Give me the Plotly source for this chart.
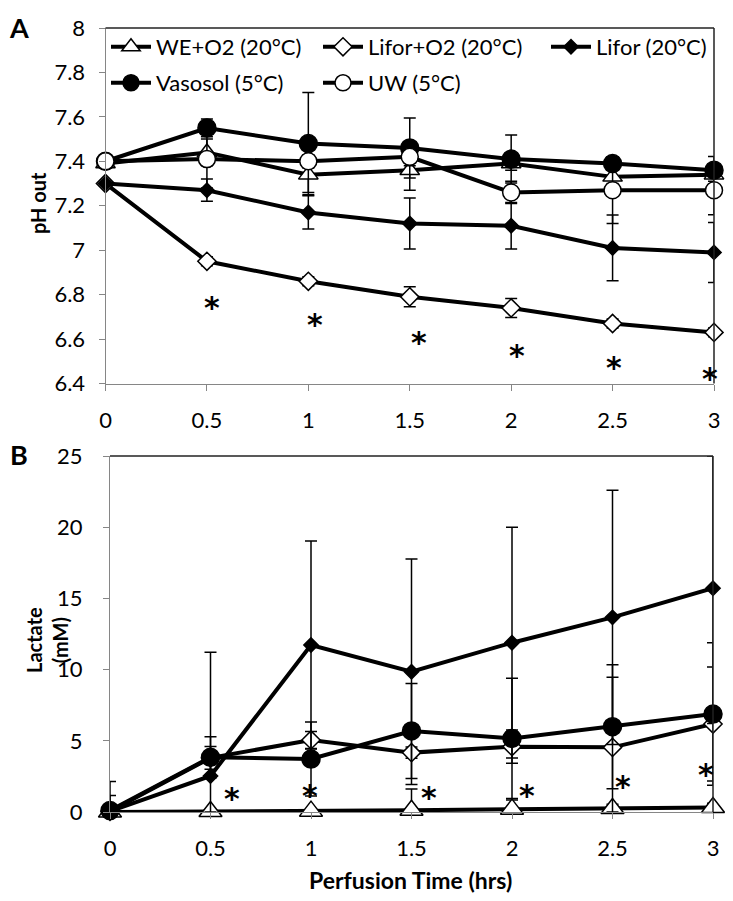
import plotly.graph_objects as go

# ---------------- data ----------------
time_hrs = [0, 0.5, 1, 1.5, 2, 2.5, 3]
x_ticks = [0, 0.5, 1, 1.5, 2, 2.5, 3]

series_names = ["WE+O2 (20°C)", "Lifor+O2 (20°C)", "Lifor (20°C)", "Vasosol (5°C)", "UW (5°C)"]

# Panel A: pH out
ph_we = [7.39, 7.44, 7.34, 7.36, 7.39, 7.33, 7.34]
ph_lifor_o2 = [7.30, 6.95, 6.86, 6.79, 6.74, 6.67, 6.63]
ph_lifor = [7.30, 7.27, 7.17, 7.12, 7.11, 7.01, 6.99]
ph_vasosol = [7.40, 7.55, 7.48, 7.46, 7.41, 7.39, 7.36]
ph_uw = [7.40, 7.41, 7.40, 7.42, 7.26, 7.27, 7.27]

ph_we_err = [0.02, 0.06, 0.08, 0.09, 0.03, 0.03, 0.03]
ph_lifor_o2_err = [0.01, 0.02, 0.02, 0.045, 0.043, 0.02, 0.02]
ph_lifor_err = [0.01, 0.05, 0.075, 0.115, 0.105, 0.148, 0.135]
ph_vasosol_err = [0.01, 0.04, 0.23, 0.135, 0.108, 0.03, 0.062]
ph_uw_err = [0.01, 0.13, 0.03, 0.04, 0.05, 0.15, 0.11]

ph_star_x = [0.527, 1.033, 1.547, 2.027, 2.509, 2.981]
ph_star_y = [6.78, 6.70, 6.62, 6.56, 6.51, 6.46]

# Panel B: Lactate (mM)
lac_we = [0.0, 0.03, 0.06, 0.12, 0.20, 0.24, 0.32]
lac_lifor_o2 = [0.05, 3.80, 5.06, 4.17, 4.59, 4.54, 6.18]
lac_lifor = [0.05, 2.53, 11.73, 9.85, 11.89, 13.67, 15.71]
lac_vasosol = [0.10, 3.84, 3.72, 5.69, 5.17, 5.99, 6.88]

lac_we_err = [0.05, 0.05, 0.05, 1.5, 0.64, 0.3, 0.3]
lac_lifor_o2_err = [0.1, 0.8, 0.6, 0.4, 1.17, 4.92, 4.0]
lac_lifor_err = [2.1, 8.68, 7.3, 7.92, 8.1, 8.93, 9.5]
lac_vasosol_err = [1.05, 1.45, 2.6, 3.33, 4.22, 4.35, 5.0]

lac_star_x = [0.605, 0.995, 1.587, 2.073, 2.55, 2.965]
lac_star_y = [1.31, 1.54, 1.36, 1.50, 2.13, 3.00]

ph_range = [6.4, 8.0]
lac_range = [0, 25]

# ---------------- styling ----------------
PAGE_OFFSET = 8          # default <body> margin of the html page
W, H = 733 - PAGE_OFFSET, 901 - PAGE_OFFSET
FONT = "Lato"
AX_GRAY = "#868686"

def px_x(p):
    return (p - PAGE_OFFSET) / W

def px_y(p):
    return 1 - (p - PAGE_OFFSET) / H

styles = {
    "WE+O2 (20°C)": dict(symbol="triangle-up", size=20, color="white"),
    "Lifor+O2 (20°C)": dict(symbol="diamond", size=14, color="white"),
    "Lifor (20°C)": dict(symbol="diamond", size=11, color="black"),
    "Vasosol (5°C)": dict(symbol="circle", size=18, color="black"),
    "UW (5°C)": dict(symbol="circle", size=17, color="white"),
}

# legend placement per series: (legend id, symbol left px, row centre px)
legend_slots = {
    "WE+O2 (20°C)": ("legend", 106, 47),
    "Lifor+O2 (20°C)": ("legend2", 318, 47),
    "Lifor (20°C)": ("legend3", 546, 47),
    "Vasosol (5°C)": ("legend4", 106, 83),
    "UW (5°C)": ("legend5", 318, 83),
}

def clip_err(vals, errs, rng):
    plus = [min(e, rng[1] - v) for v, e in zip(vals, errs)]
    minus = [min(e, v - rng[0]) for v, e in zip(vals, errs)]
    return plus, minus

fig = go.Figure()

ph_data = [
    ("WE+O2 (20°C)", ph_we, ph_we_err),
    ("Lifor+O2 (20°C)", ph_lifor_o2, ph_lifor_o2_err),
    ("Lifor (20°C)", ph_lifor, ph_lifor_err),
    ("Vasosol (5°C)", ph_vasosol, ph_vasosol_err),
    ("UW (5°C)", ph_uw, ph_uw_err),
]
lac_data = [
    ("WE+O2 (20°C)", lac_we, lac_we_err),
    ("Lifor+O2 (20°C)", lac_lifor_o2, lac_lifor_o2_err),
    ("Lifor (20°C)", lac_lifor, lac_lifor_err),
    ("Vasosol (5°C)", lac_vasosol, lac_vasosol_err),
]

for name, vals, errs in ph_data:
    st = styles[name]
    plus, minus = clip_err(vals, errs, ph_range)
    fig.add_trace(go.Scatter(
        x=time_hrs, y=vals, name=name, mode="lines+markers",
        xaxis="x", yaxis="y", cliponaxis=False,
        legend=legend_slots[name][0],
        line=dict(color="black", width=4),
        marker=dict(symbol=st["symbol"], size=st["size"] if name != "WE+O2 (20°C)" else 17,
                    color=st["color"], line=dict(color="black", width=1.5)),
        error_y=dict(type="data", symmetric=False, array=plus, arrayminus=minus,
                     color="black", thickness=1.5, width=6),
    ))

for name, vals, errs in lac_data:
    st = styles[name]
    plus, minus = clip_err(vals, errs, lac_range)
    fig.add_trace(go.Scatter(
        x=time_hrs, y=vals, name=name, mode="lines+markers",
        xaxis="x2", yaxis="y2", cliponaxis=False, showlegend=False,
        line=dict(color="black", width=4),
        marker=dict(symbol=st["symbol"], size=st["size"], color=st["color"],
                    line=dict(color="black", width=1.5)),
        error_y=dict(type="data", symmetric=False, array=plus, arrayminus=minus,
                     color="black", thickness=1.5, width=6),
    ))

axis_common = dict(
    showline=True, linecolor=AX_GRAY, linewidth=1, ticks="outside",
    tickcolor=AX_GRAY, ticklen=6, tickwidth=1, showgrid=False, zeroline=False,
    automargin=False, tickfont=dict(family=FONT, size=22, color="black"),
)

layout_legends = {}
for name, (lid, lx, ly) in legend_slots.items():
    layout_legends[lid] = dict(
        orientation="h", x=px_x(lx), y=px_y(ly), xanchor="left", yanchor="middle",
        font=dict(family=FONT, size=22, color="black"), itemwidth=40,
        bgcolor="rgba(0,0,0,0)", borderwidth=0)

fig.update_layout(
    width=W, height=H,
    margin=dict(l=0, r=0, t=0, b=0, pad=0, autoexpand=False),
    paper_bgcolor="white", plot_bgcolor="white",
    font=dict(family=FONT, color="black"),
    xaxis=dict(domain=[px_x(105.5), px_x(714)], range=[0, 3], tickvals=x_ticks,
               anchor="y", ticklabelstandoff=11, **axis_common),
    yaxis=dict(domain=[px_y(383.5), px_y(28)], range=ph_range, dtick=0.2,
               anchor="x", ticklabelstandoff=9, **axis_common),
    xaxis2=dict(domain=[px_x(110), px_x(713)], range=[0, 3], tickvals=x_ticks,
                anchor="y2", ticklabelstandoff=11, **axis_common),
    yaxis2=dict(domain=[px_y(812), px_y(456)], range=lac_range, dtick=5,
                anchor="x2", ticklabelstandoff=16, **axis_common),
    **layout_legends,
)

# top and right frame lines
for xr, yr in (("x", "y"), ("x2", "y2")):
    fig.add_shape(type="line", xref=f"{xr} domain", yref=f"{yr} domain",
                  x0=0, x1=1, y0=1, y1=1, line=dict(color="#222222", width=1.5))
    fig.add_shape(type="line", xref=f"{xr} domain", yref=f"{yr} domain",
                  x0=1, x1=1, y0=0, y1=1, line=dict(color="#222222", width=1.5))

# significance asterisks
STAR_FONT = dict(family="DejaVu Sans", size=30, color="black")
for sx, sy in zip(ph_star_x, ph_star_y):
    fig.add_annotation(x=sx, y=sy, xref="x", yref="y", text="<b>*</b>", showarrow=False,
                       xanchor="center", yanchor="middle", font=STAR_FONT, yshift=-8)
for sx, sy in zip(lac_star_x, lac_star_y):
    fig.add_annotation(x=sx, y=sy, xref="x2", yref="y2", text="<b>*</b>", showarrow=False,
                       xanchor="center", yanchor="middle", font=STAR_FONT, yshift=-5)

# panel labels and axis titles
def paper_text(x, y, text, size, angle=0, yanchor="middle"):
    fig.add_annotation(x=px_x(x), y=px_y(y), xref="paper", yref="paper", text=text,
                       showarrow=False, xanchor="center", yanchor=yanchor,
                       textangle=angle, font=dict(family=FONT, size=size, color="black"))

paper_text(19, 9, "<b>A</b>", 27, yanchor="top")
paper_text(19, 454, "<b>B</b>", 27)
paper_text(38, 203, "<b>pH out</b>", 20, -90)
paper_text(47, 640, "<b>Lactate</b><br><b>(mM)</b>", 20, -90)
paper_text(410, 880, "<b>Perfusion Time (hrs)</b>", 23)

fig.write_html("out.html")
